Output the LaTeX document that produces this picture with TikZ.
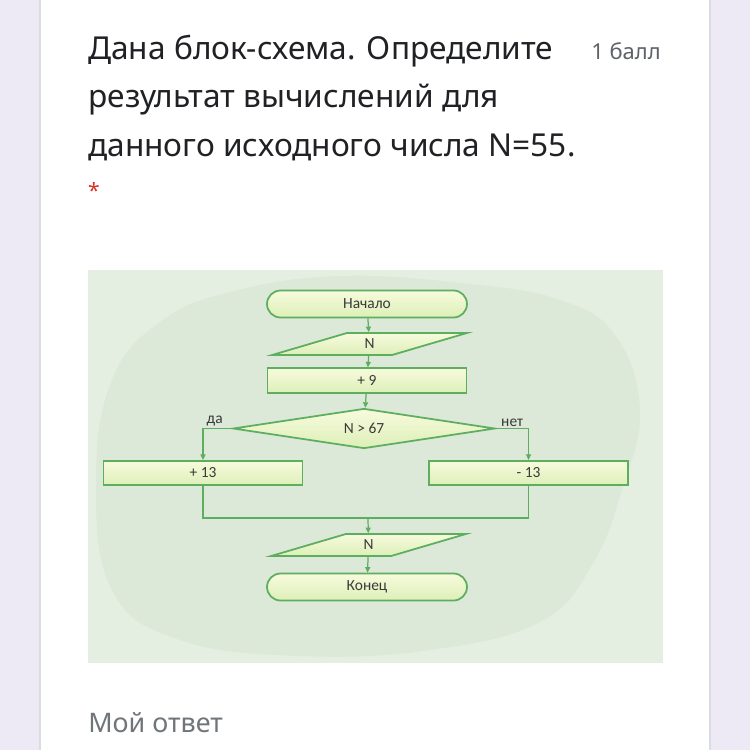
\documentclass[tikz,border=0pt]{standalone}
\usepackage{fontspec}
\setmainfont{Noto Sans}
\newfontfamily\flowfont{Carlito}
\usetikzlibrary{shapes.geometric,shapes.misc,arrows.meta}

\definecolor{pagebg}{HTML}{EDEAF5}
\definecolor{cardline}{HTML}{DADCE0}
\definecolor{titletext}{HTML}{202124}
\definecolor{greytext}{HTML}{5F6368}
\definecolor{answertext}{HTML}{70757A}
\definecolor{starred}{HTML}{D93025}
\definecolor{picbg}{HTML}{E4EFE1}
\definecolor{picblob}{HTML}{DCE8D8}
\definecolor{flowgreen}{HTML}{5DAE5F}
\definecolor{boxtop}{HTML}{F7FBDD}
\definecolor{boxbot}{HTML}{DDEFB8}
\definecolor{flowtext}{HTML}{3A3A3A}

\tikzset{
  shape base/.style={draw=flowgreen, line width=1pt, top color=boxtop,
    bottom color=boxbot, text=flowtext, inner sep=0pt,
    font=\flowfont\fontsize{8.8}{10}\selectfont},
  term/.style={shape base, rounded rectangle, minimum width=4cm,
    minimum height=0.54cm},
  io/.style={shape base, trapezium, trapezium left angle=31,
    trapezium right angle=149, trapezium stretches=true,
    minimum width=3.9cm, minimum height=0.44cm},
  proc/.style={shape base, rectangle, minimum width=3.98cm,
    minimum height=0.49cm},
  decision/.style={shape base, diamond, aspect=6.5, minimum width=5.24cm,
    minimum height=0.8cm},
  flow/.style={draw=flowgreen, line width=0.7pt},
  arr/.style={flow, -{Triangle[length=0.11cm, width=0.1cm]}},
  branch/.style={text=flowtext, inner sep=1pt,
    font=\flowfont\fontsize{8.8}{10}\selectfont}
}

\begin{document}
\begin{tikzpicture}[x=0.02cm, y=-0.02cm]
    \useasboundingbox (0,0) rectangle (750,750);

    % Fondo de la pagina y tarjeta
    \fill[pagebg] (0,0) rectangle (750,750);
    \fill[white] (40,0) rectangle (710,750);
    \draw[cardline, line width=1.2pt] (40,0) -- (40,750);
    \draw[cardline, line width=1.2pt] (710,0) -- (710,750);

    % Pregunta
    \begin{scope}[every node/.style={anchor=base west, inner sep=0pt,
        text=titletext, font=\fontsize{18}{21}\selectfont}]
        \node (line1) at (88,60)  {Дана блок-схема. Определите};
        \node (line2) at (88,108) {результат вычислений для};
        \node (line3) at (88,156) {данного исходного числа N=55.};
    \end{scope}
    \node[anchor=base west, inner sep=0pt, text=greytext,
          font=\fontsize{12.5}{14}\selectfont] (points) at (591,60) {1 балл};
    \node[text=starred, inner sep=0pt, font=\fontsize{12}{14}\selectfont]
          (star) at (94,190) {*};

    % Imagen de fondo
    \fill[picbg] (88,270) rectangle (663,663);
    \fill[picblob] plot[smooth cycle, tension=0.7] coordinates {
        (230,292) (340,276) (470,284) (560,300) (615,335) (640,410)
        (622,490) (592,565) (540,622) (430,650) (300,656) (180,640)
        (112,590) (96,480) (112,380) (160,322)};

    % Bloques
    \node[term]     (start) at (367,304)   {Начало};
    \node[io]       (input) at (369.5,344) {N};
    \node[proc]     (add)   at (367,380.5) {+ 9};
    \node[decision] (check) at (364,428.5) {N > 67};
    \node[proc]     (plus)  at (203,473)   {+ 13};
    \node[proc]     (minus) at (528.5,473) {- 13};
    \node[io]       (print) at (368.5,545) {N};
    \node[term]     (stop)  at (367,587)   {Конец};
    \coordinate     (merge) at (368,518);

    % Conexiones
    \draw[arr] (start) -- (input);
    \draw[arr] (input) -- (add);
    \draw[arr] (add) -- (check);
    \draw[arr] (check.west) -| node[branch, pos=0.3, above] (yes) {да} (plus.north);
    \draw[arr] (check.east) -| node[branch, pos=0.25, above] (no) {нет} (minus.north);
    \draw[flow] (plus.south) |- (merge) -| (minus.south);
    \draw[arr] (merge) -- (print);
    \draw[arr] (print) -- (stop);

    % Respuesta
    \node[anchor=base west, inner sep=0pt, text=answertext,
          font=\fontsize{15.3}{18}\selectfont] (answer) at (88,732) {Мой ответ};
\end{tikzpicture}
\end{document}
